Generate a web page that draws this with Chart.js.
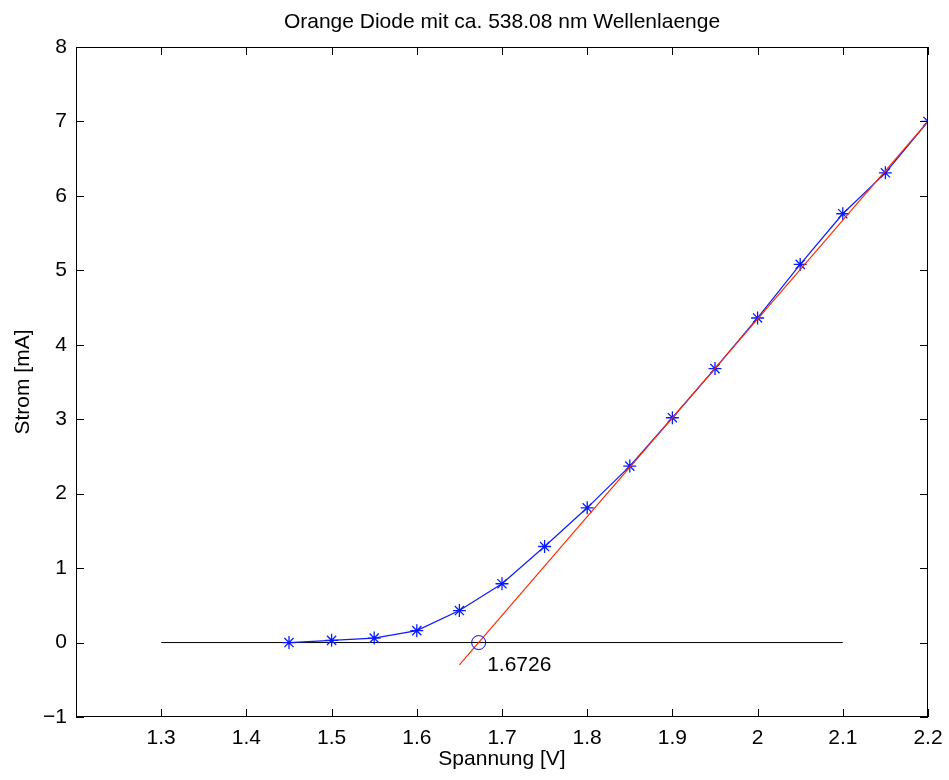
<!DOCTYPE html>
<html>
<head>
<meta charset="utf-8">
<script src="https://cdn.jsdelivr.net/npm/chart.js@4"></script>
<style>
  html, body { margin: 0; padding: 0; background: #fff; }
  canvas { display: block; }
</style>
</head>
<body>
<canvas id="diodeChart" width="949" height="780"></canvas>
<script>
// measured values
const voltage = [1.45, 1.5, 1.55, 1.6, 1.65, 1.7, 1.75, 1.8, 1.85, 1.9, 1.95, 2.0, 2.05, 2.1, 2.15, 2.2];
const current = [0, 0.03, 0.06, 0.16, 0.43, 0.79, 1.29, 1.81, 2.37, 3.02, 3.68, 4.36, 5.08, 5.76, 6.31, 7.0];

// linear fit and zero line
const fitX = [1.65, 2.2];
const fitY = [-0.3, 7.0];
const zeroX = [1.3, 2.1];
const zeroY = [0, 0];

// threshold voltage
const thresholdX = 1.6726;
const labelX = 1.6826;
const labelY = -0.3;
const labelText = "1.6726";

const xTicks = [1.2, 1.3, 1.4, 1.5, 1.6, 1.7, 1.8, 1.9, 2.0, 2.1, 2.2];
const yTicks = [-1, 0, 1, 2, 3, 4, 5, 6, 7, 8];

const titleText = "Orange Diode mit ca. 538.08 nm Wellenlaenge";
const xTitle = "Spannung [V]";
const yTitle = "Strom [mA]";

const FONT = "'Liberation Sans', Arial, Helvetica, sans-serif";
const FSIZE = 21;

const toPoints = (xs, ys) => xs.map((x, i) => ({ x: x, y: ys[i] }));

// ✅ box with inward ticks, title and annotation text
const matlabAxes = {
    id: "matlabAxes",
    afterDraw(chart) {
        const { ctx, chartArea: a, scales } = chart;
        const len = 8;
        ctx.save();
        ctx.strokeStyle = "#000";
        ctx.lineWidth = 1;
        ctx.strokeRect(a.left + 0.5, a.top + 0.5, a.right - a.left - 1, a.bottom - a.top - 1);
        ctx.beginPath();
        xTicks.forEach(v => {
            const px = Math.round(scales.x.getPixelForValue(v)) + 0.5;
            ctx.moveTo(px, a.bottom); ctx.lineTo(px, a.bottom - len);
            ctx.moveTo(px, a.top); ctx.lineTo(px, a.top + len);
        });
        yTicks.forEach(v => {
            const py = Math.round(scales.y.getPixelForValue(v)) + 0.5;
            ctx.moveTo(a.left, py); ctx.lineTo(a.left + len, py);
            ctx.moveTo(a.right, py); ctx.lineTo(a.right - len, py);
        });
        ctx.stroke();

        ctx.fillStyle = "#000";
        ctx.font = FSIZE + "px " + FONT;
        ctx.textAlign = "center";
        ctx.textBaseline = "middle";
        ctx.fillText(titleText, (a.left + a.right) / 2, 22);

        ctx.textAlign = "left";
        ctx.fillText(labelText, scales.x.getPixelForValue(labelX), scales.y.getPixelForValue(labelY));
        ctx.restore();
    }
};

const ctx = document.getElementById("diodeChart").getContext("2d");
const diodeChart = new Chart(ctx, {
    type: "scatter",
    data: {
        datasets: [
            {
                label: "Schwelle",
                data: toPoints([thresholdX], [0]),
                borderColor: "#0000ff",
                backgroundColor: "transparent",
                pointStyle: "circle",
                pointRadius: 7,
                pointBorderWidth: 1,
                showLine: false,
                order: 0
            },
            {
                label: "Fit",
                data: toPoints(fitX, fitY),
                borderColor: "#ff2a00",
                borderWidth: 1.2,
                pointRadius: 0,
                showLine: true,
                order: 1
            },
            {
                label: "Messwerte",
                data: toPoints(voltage, current),
                borderColor: "#0a1cff",
                backgroundColor: "#0a1cff",
                borderWidth: 1.2,
                pointStyle: "star",
                pointRadius: 6.5,
                pointBorderWidth: 1.3,
                showLine: true,
                order: 2
            },
            {
                label: "Null",
                data: toPoints(zeroX, zeroY),
                borderColor: "#000",
                borderWidth: 1,
                pointRadius: 0,
                showLine: true,
                order: 3
            }
        ]
    },
    options: {
        responsive: false,
        animation: false,
        layout: { autoPadding: false, padding: { top: 47, right: 21, left: 0, bottom: 0 } },
        scales: {
            x: {
                type: "linear",
                min: 1.2,
                max: 2.2,
                afterFit: s => { s.height = 63; s.paddingLeft = 0; s.paddingRight = 0; },
                afterBuildTicks: s => { s.ticks = xTicks.map(v => ({ value: v })); },
                grid: { display: false, drawTicks: false },
                border: { display: false },
                ticks: {
                    color: "#000",
                    font: { family: FONT, size: FSIZE },
                    padding: 9,
                    maxRotation: 0,
                    autoSkip: false,
                    callback: v => (v === 1.2 ? "" : String(Math.round(v * 10) / 10))
                },
                title: {
                    display: true,
                    text: xTitle,
                    color: "#000",
                    font: { family: FONT, size: FSIZE },
                    padding: { top: 0, bottom: 8 }
                }
            },
            y: {
                type: "linear",
                min: -1,
                max: 8,
                afterFit: s => { s.width = 76; s.paddingTop = 0; s.paddingBottom = 0; },
                afterBuildTicks: s => { s.ticks = yTicks.map(v => ({ value: v })); },
                grid: { display: false, drawTicks: false },
                border: { display: false },
                ticks: {
                    color: "#000",
                    font: { family: FONT, size: FSIZE },
                    padding: 9,
                    autoSkip: false,
                    callback: v => (v < 0 ? "\u2212" + Math.abs(v) : String(v))
                },
                title: {
                    display: true,
                    text: yTitle,
                    color: "#000",
                    font: { family: FONT, size: FSIZE },
                    padding: { top: 11, bottom: 0 }
                }
            }
        },
        plugins: {
            legend: { display: false },
            tooltip: { enabled: false }
        }
    },
    plugins: [matlabAxes]
});
</script>
</body>
</html>
